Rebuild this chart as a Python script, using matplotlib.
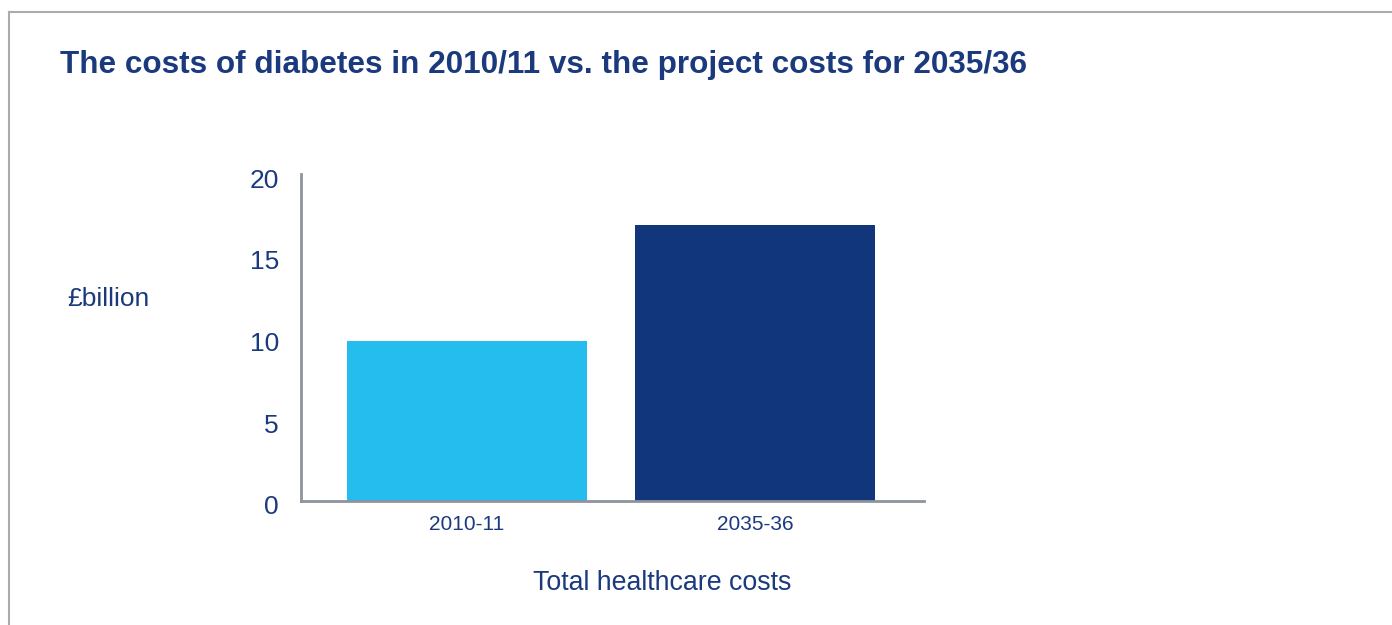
import matplotlib
matplotlib.use("Agg")
import matplotlib.pyplot as plt
from matplotlib.lines import Line2D
from matplotlib.transforms import ScaledTranslation

categories = ["2010-11", "2035-36"]
values = [9.8, 16.9]
colors = ["#25BDEE", "#12367C"]
yticks = [0, 5, 10, 15, 20]

W, H = 1392, 625
fig = plt.figure(figsize=(W / 100, H / 100), dpi=100)
plt.rcParams['font.family'] = ['Liberation Sans', 'DejaVu Sans']
navy = "#1B3A7E"
grey = "#8C949C"

def fx(px):
    return px / W

def fy(py):
    return 1 - py / H

# frame lines
fig.add_artist(Line2D([fx(9), fx(9)], [fy(12), fy(625)], color="#A7ACB1", lw=1.5))
fig.add_artist(Line2D([fx(9), 1], [fy(12), fy(12)], color="#A7ACB1", lw=1.5))

ax_l, ax_r, ax_t, ax_b = 301, 924, 174, 501
ax = fig.add_axes([fx(ax_l), fy(ax_b), (ax_r - ax_l) / W, (ax_b - ax_t) / H])
x = list(range(len(categories)))
ax.bar(x, values, width=0.833, color=colors, zorder=2)
ax.set_xlim(-0.576, 1.587)
ax.set_ylim(0, 20)
ax.set_yticks(yticks)
ax.set_yticklabels([str(v) for v in yticks], fontsize=19, color=navy)
ax.set_xticks(x)
ax.set_xticklabels(categories, fontsize=15, color=navy)
ax.tick_params(axis='both', length=0)
ax.tick_params(axis='y', pad=16)
ax.tick_params(axis='x', pad=10)
shift = ScaledTranslation(0, -4 / 100, fig.dpi_scale_trans)
for lbl in ax.get_yticklabels():
    lbl.set_transform(lbl.get_transform() + shift)
for s in ["top", "right"]:
    ax.spines[s].set_visible(False)
for s in ["left", "bottom"]:
    ax.spines[s].set_color(grey)
    ax.spines[s].set_linewidth(2)

fig.text(fx(60), fy(65), "The costs of diabetes in 2010/11 vs. the project costs for 2035/36",
         fontsize=22.7, fontweight='bold', color=navy, va='center', ha='left')
fig.text(fx(67), fy(299), "£billion", fontsize=19, color=navy, va='center', ha='left')
fig.text(fx(662), fy(583), "Total healthcare costs", fontsize=19.3, color=navy, va='center', ha='center')

fig.savefig("out.png", dpi=100, facecolor="white")
